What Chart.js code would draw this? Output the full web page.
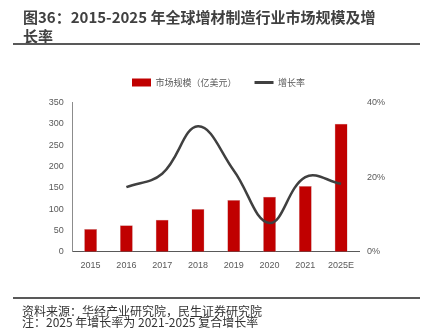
<!DOCTYPE html>
<html>
<head>
<meta charset="utf-8">
<script src="https://cdn.jsdelivr.net/npm/chart.js@4"></script>
<style>
  body { margin: 0; background: #fff; width: 427px; height: 336px; position: relative; overflow: hidden; }
  #title { position: absolute; left: 23px; top: 7px; font: bold 15px "Noto Sans CJK SC"; color: #404040; line-height: 19px; white-space: nowrap; }
  .rule { position: absolute; left: 13px; width: 407px; background: #595959; }
  .note { position: absolute; left: 22px; font: 12px "Noto Sans CJK SC"; color: #333; line-height: 12px; white-space: nowrap; }
  canvas { position: absolute; left: 0; top: 0; }
</style>
</head>
<body>
<canvas id="c" width="427" height="336"></canvas>
<div id="title">图36：2015-2025 年全球增材制造行业市场规模及增<br>长率</div>
<div class="rule" style="top:43px;height:2px"></div>
<div class="rule" style="top:297px;height:1.5px"></div>
<div class="note" style="top:304.5px">资料来源：华经产业研究院，民生证券研究院</div>
<div class="note" style="top:316px">注：2025 年增长率为 2021-2025 复合增长率</div>
<script>
let years = ['2015','2016','2017','2018','2019','2020','2021','2025E']
let market = [53, 62, 75, 100, 121, 129, 154, 300]
let growth = [null, 17.3, 20.9, 33.6, 21.8, 7.7, 20.0, 18.2]
let leftTicks = [0, 50, 100, 150, 200, 250, 300, 350]
let rightTicks = [0, 20, 40]

const tickFont = {family: 'Liberation Sans', size: 9}
const grey = '#595959'

// lift the legend a bit above the plot, like the excel layout
const legendLift = {
  id: 'legendLift',
  afterLayout(chart) {
    chart.legend.top -= 5.5
    chart.legend.bottom -= 5.5
  }
}

new Chart(document.getElementById('c'), {
  data: {
    labels: years,
    datasets: [{
      type: 'bar',
      label: '市场规模（亿美元）',
      data: market,
      backgroundColor: '#C00000',
      borderColor: '#C9A0A0',
      borderWidth: 0.5,
      barPercentage: 0.36,
      categoryPercentage: 1,
      yAxisID: 'y',
      order: 1
    }, {
      type: 'line',
      label: '增长率',
      data: growth,
      borderColor: '#404040',
      backgroundColor: '#404040',
      borderWidth: 2.5,
      pointRadius: 0,
      tension: 0.4,
      yAxisID: 'y1',
      order: 0
    }]
  },
  plugins: [legendLift],
  options: {
    responsive: false,
    animation: false,
    layout: {padding: {top: 71.5, left: 10, right: 0, bottom: 0}},
    plugins: {
      tooltip: {enabled: false},
      legend: {
        display: true,
        labels: {
          color: grey,
          font: {family: 'Noto Sans CJK SC', size: 9},
          usePointStyle: true,
          pointStyleWidth: 19,
          boxHeight: 8,
          padding: 12,
          generateLabels: function(chart) {
            return chart.data.datasets.map(function(ds, i) {
              return {
                text: ds.label + (i == 0 ? '   ' : ''),
                fillStyle: ds.backgroundColor,
                strokeStyle: ds.type == 'line' ? ds.borderColor : ds.backgroundColor,
                lineWidth: ds.type == 'line' ? 3 : 0,
                pointStyle: ds.type == 'line' ? 'line' : 'rect',
                fontColor: grey,
                datasetIndex: i
              }
            })
          }
        }
      }
    },
    scales: {
      x: {
        grid: {display: false, drawTicks: false},
        border: {color: grey, width: 1},
        ticks: {color: grey, font: tickFont, padding: 8, maxRotation: 0},
        afterFit: function(s) { s.height = 84.3 }
      },
      y: {
        position: 'left',
        min: 0, max: 350,
        grid: {display: false, drawTicks: false},
        border: {color: '#8c8c8c', width: 1},
        afterBuildTicks: function(s) { s.ticks = leftTicks.map(v => ({value: v})) },
        ticks: {color: grey, font: tickFont, padding: 9},
        afterFit: function(s) { s.width = 62.7 }
      },
      y1: {
        position: 'right',
        min: 0, max: 40,
        grid: {display: false, drawTicks: false},
        border: {display: false},
        afterBuildTicks: function(s) { s.ticks = rightTicks.map(v => ({value: v})) },
        ticks: {color: grey, font: tickFont, padding: 8, callback: v => v + '%'},
        afterFit: function(s) { s.width = 68 }
      }
    }
  }
})
</script>
</body>
</html>
